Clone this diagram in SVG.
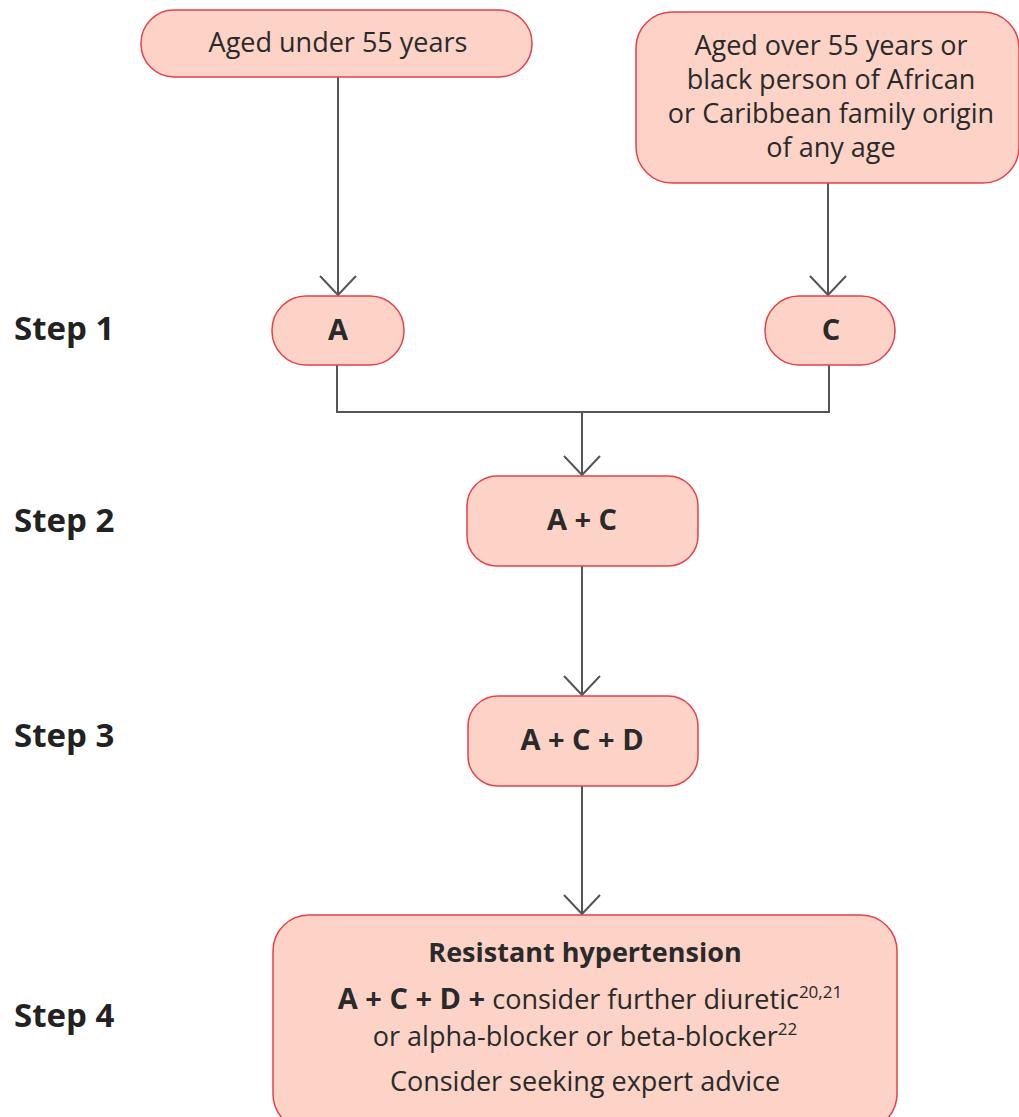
<svg xmlns="http://www.w3.org/2000/svg" width="1019" height="1117" viewBox="0 0 1019 1117">
<style>
.box{fill:#fcd3c6;stroke:#e8404a;stroke-width:1.5}
.t{font-family:"Open Sans","DejaVu Sans",sans-serif;font-size:27px;fill:#2a2a2a;text-anchor:middle}
.b{font-weight:bold}
.bn{font-size:29px}
.step{font-family:"Open Sans","DejaVu Sans",sans-serif;font-size:33px;font-weight:bold;fill:#222}
.ln{fill:none;stroke:#555;stroke-width:2}
</style>
<defs>
<marker id="arr" markerUnits="userSpaceOnUse" markerWidth="40" markerHeight="40" viewBox="-22 -20 24 40" refX="0" refY="0" orient="auto">
<path d="M-19,-18 L0,0 L-19,18" fill="none" stroke="#555" stroke-width="2"/>
</marker>
</defs>
<g id="labels">
<text class="step" x="14" y="340">Step 1</text>
<text class="step" x="14" y="532">Step 2</text>
<text class="step" x="14" y="747">Step 3</text>
<text class="step" x="14" y="1027">Step 4</text>
</g>
<g id="connectors">
<path class="ln" d="M338,77 V295" marker-end="url(#arr)"/>
<path class="ln" d="M828,183 V295" marker-end="url(#arr)"/>
<path class="ln" d="M337,365 V412 H829 V365"/>
<path class="ln" d="M582,412 V475" marker-end="url(#arr)"/>
<path class="ln" d="M582,566 V695" marker-end="url(#arr)"/>
<path class="ln" d="M582,786 V914" marker-end="url(#arr)"/>
</g>
<g id="n-under55">
<rect class="box" x="141" y="10" width="391" height="67" rx="33"/>
<text class="t" x="338" y="52">Aged under 55 years</text>
</g>
<g id="n-over55">
<rect class="box" x="636" y="12" width="383" height="171" rx="36"/>
<text class="t" x="831" y="55">Aged over 55 years or</text>
<text class="t" x="831" y="89">black person of African</text>
<text class="t" x="831" y="123">or Caribbean family origin</text>
<text class="t" x="831" y="157">of any age</text>
</g>
<g id="n-A">
<rect class="box" x="272" y="296" width="132" height="69" rx="34"/>
<text class="t b bn" x="338" y="340">A</text>
</g>
<g id="n-C">
<rect class="box" x="765" y="296" width="130" height="69" rx="34"/>
<text class="t b bn" x="831" y="340">C</text>
</g>
<g id="n-AC">
<rect class="box" x="467" y="476" width="231" height="90" rx="30"/>
<text class="t b bn" x="582" y="530">A + C</text>
</g>
<g id="n-ACD">
<rect class="box" x="468" y="696" width="230" height="90" rx="30"/>
<text class="t b bn" x="582" y="750">A + C + D</text>
</g>
<g id="n-resistant">
<rect class="box" x="273" y="915" width="624" height="215" rx="36"/>
<text class="t b" x="585" y="962">Resistant hypertension</text>
<text class="t" x="590" y="1009"><tspan class="b" font-size="29">A + C + D +</tspan> consider further diuretic<tspan font-size="17" dy="-11">20,21</tspan></text>
<text class="t" x="585" y="1046">or alpha-blocker or beta-blocker<tspan font-size="17" dy="-11">22</tspan></text>
<text class="t" x="585" y="1091">Consider seeking expert advice</text>
</g>
</svg>
